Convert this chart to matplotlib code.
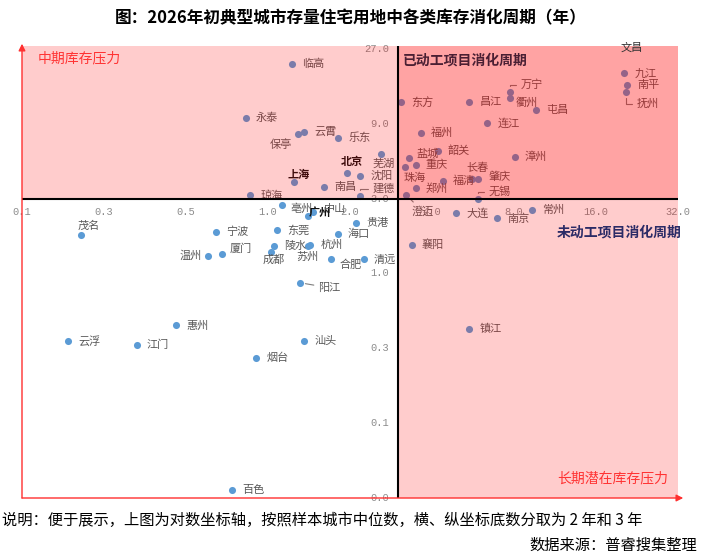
import numpy as np
import matplotlib.pyplot as plt

plt.rcParams['font.family'] = ['Noto Sans CJK SC', 'DejaVu Sans']

# 数据：横轴 = 未动工项目消化周期（年），纵轴 = 已动工项目消化周期（年）
cities = ['临高', '永泰', '保亭', '云霄', '乐东', '芜湖', '北京', '沈阳', '上海', '南昌',
          '建德', '琼海', '东方', '昌江', '万宁', '衢州', '屯昌', '连江', '福州', '韶关',
          '盐城', '重庆', '珠海', '漳州', '长春', '福清', '肇庆', '郑州', '无锡', '澄迈',
          '文昌', '九江', '南平', '抚州',
          '亳州', '广州', '中山', '贵港', '茂名', '宁波', '东莞', '海口', '陵水', '杭州',
          '苏州', '厦门', '温州', '成都', '合肥', '清远', '阳江', '惠州', '云浮', '江门',
          '汕头', '烟台', '百色', '大连', '南京', '常州', '襄阳', '镇江']
x_vals = [1.23, 0.83, 1.29, 1.36, 1.81, 2.59, 1.95, 2.18, 1.25, 1.61,
          2.18, 0.86, 3.07, 5.49, 7.71, 7.71, 9.63, 6.38, 3.63, 4.20,
          3.28, 3.49, 3.18, 8.04, 5.62, 4.38, 5.89, 3.48, 5.91, 3.22,
          21.7, 20.3, 20.8, 20.7,
          1.13, 1.40, 1.46, 2.11, 0.206, 0.646, 1.08, 1.80, 1.05, 1.43,
          1.40, 0.676, 0.602, 1.03, 1.71, 2.25, 1.31, 0.46, 0.185, 0.33,
          1.36, 0.906, 0.737, 4.92, 6.91, 9.29, 3.37, 5.49]
y_vals = [21.6, 9.8, 7.7, 8.0, 7.3, 5.8, 4.35, 4.2, 3.83, 3.57,
          3.12, 3.15, 12.4, 12.4, 14.4, 13.1, 11.0, 9.07, 7.9, 6.06,
          5.42, 4.91, 4.8, 5.55, 4.0, 3.9, 4.0, 3.5, 3.0, 3.16,
          30.0, 18.9, 15.8, 14.3,
          2.73, 2.34, 2.48, 2.10, 1.76, 1.84, 1.89, 1.79, 1.50, 1.53,
          1.49, 1.34, 1.30, 1.37, 1.23, 1.23, 0.873, 0.466, 0.369, 0.349,
          0.37, 0.288, 0.0417, 2.42, 2.25, 2.54, 1.52, 0.443]
bold_cities = ['北京', '上海', '广州']

x_ticks = [0.125, 0.25, 0.5, 1, 2, 4, 8, 16, 32]
x_ticklabels = ['0.1', '0.3', '0.5', '1.0', '2.0', '4.0', '8.0', '16.0', '32.0']
y_ticks = [1 / 27, 1 / 9, 1 / 3, 1, 3, 9, 27]
y_ticklabels = ['0.0', '0.1', '0.3', '1.0', '3.0', '9.0', '27.0']
x_mid, y_mid = 3, 3

# 标签位置（像素偏移：右为正，下为正）
label_pos = {
    '保亭': ('center', -17, 10), '芜湖': ('center', 3, 10), '北京': ('center', 5, -12),
    '上海': ('center', 4, -8), '建德': ('left', 12, -7), '万宁': ('left', 11, -7),
    '衢州': ('left', 6, 4), '盐城': ('left', 8, -5), '珠海': ('center', 10, 11),
    '长春': ('center', 5, -11), '肇庆': ('left', 11, -2), '无锡': ('left', 10, -7),
    '澄迈': ('center', 16, 16), '抚州': ('left', 10, 12), '文昌': ('center', 0, 6),
    '亳州': ('left', 8, 4), '广州': ('left', 1, -3), '中山': ('left', 11, -3),
    '茂名': ('center', 8, -9), '苏州': ('center', 0, 11), '厦门': ('left', 8, -5),
    '温州': ('right', -6, 0), '成都': ('center', 2, 8), '合肥': ('left', 8, 5),
    '阳江': ('left', 18, 5), '南京': ('left', 11, 1),
}
elbow_leader = ['建德', '万宁', '无锡', '抚州']
straight_leader = ['澄迈', '阳江']

fig = plt.figure(figsize=(7.01, 5.58), dpi=100)
ax = fig.add_axes([22 / 701, 60 / 558, 656 / 701, 452 / 558])
ax.set_xscale('log', base=2)
ax.set_yscale('log', base=3)
xmin, xmax = 0.125, 32
ymin, ymax = 1 / 27, 28.2
ax.set_xlim(xmin, xmax)
ax.set_ylim(ymin, ymax)
ax.axis('off')

ax.scatter(x_vals, y_vals, s=26, color='#5b9bd5', zorder=2, linewidths=0)

for name, xv, yv in zip(cities, x_vals, y_vals):
    ha, dx, dy = label_pos.get(name, ('left', 10, 0))
    bold = name in bold_cities
    props = None
    if name in elbow_leader:
        props = dict(arrowstyle='-', color='#7f7f7f', lw=0.8, shrinkA=1, shrinkB=4,
                     connectionstyle='angle,angleA=0,angleB=90,rad=0')
    elif name in straight_leader:
        props = dict(arrowstyle='-', color='#7f7f7f', lw=0.8, shrinkA=1, shrinkB=4)
    z = 6 if name == '文昌' else 2
    ax.annotate(name, xy=(xv, yv), xytext=(dx, -dy), textcoords='offset pixels',
                ha=ha, va='center', fontsize=8,
                color='#111111' if bold else ('#333333' if name == '文昌' else '#595959'),
                fontweight='bold' if bold else 'normal',
                arrowprops=props, annotation_clip=False, zorder=z)

# 象限底色
ax.axhspan(y_mid, ymax, color='red', alpha=0.2, lw=0, zorder=3)
ax.axvspan(x_mid, xmax, color='red', alpha=0.2, lw=0, zorder=3)

# 中位数坐标轴
ax.axhline(y_mid, color='black', lw=1.5, zorder=4)
ax.axvline(x_mid, color='black', lw=1.5, zorder=4)

for t, lab in zip(x_ticks, x_ticklabels):
    ax.annotate(lab, xy=(t, y_mid), xytext=(0, -13), textcoords='offset pixels',
                ha='center', va='center', fontsize=7.5, family='Liberation Mono',
                color='#8c8c8c', zorder=2, annotation_clip=False)
for t, lab in zip(y_ticks, y_ticklabels):
    ax.annotate(lab, xy=(x_mid, t), xytext=(-9, 0), textcoords='offset pixels',
                ha='right', va='center', fontsize=7.5, family='Liberation Mono',
                color='#8c8c8c', zorder=2, annotation_clip=False)

# 红色箭头
ax.annotate('', xy=(0, 1.005), xytext=(0, 0), xycoords='axes fraction',
            arrowprops=dict(arrowstyle='-|>', color='#ff3030', lw=1, mutation_scale=10,
                            shrinkA=0, shrinkB=0), annotation_clip=False, zorder=5)
ax.annotate('', xy=(1.008, 0), xytext=(0, 0), xycoords='axes fraction',
            arrowprops=dict(arrowstyle='-|>', color='#ff3030', lw=1, mutation_scale=10,
                            shrinkA=0, shrinkB=0), annotation_clip=False, zorder=5)

# 象限说明
ax.text(16 / 656, 1 - 12 / 452, '中期库存压力', transform=ax.transAxes, color='#ff3333',
        fontsize=10, ha='left', va='center', zorder=5)
ax.text(381 / 656, 1 - 14 / 452, '已动工项目消化周期', transform=ax.transAxes, color='#4a1f33',
        fontsize=10, fontweight='bold', ha='left', va='center', zorder=5)
ax.text(1.006, 1 - 186 / 452, '未动工项目消化周期', transform=ax.transAxes, color='#2b2b66',
        fontsize=10, fontweight='bold', ha='right', va='center', zorder=5)
ax.text(1 - 10 / 656, 20 / 452, '长期潜在库存压力', transform=ax.transAxes, color='#ff3333',
        fontsize=10, ha='right', va='center', zorder=5)

fig.text(0.5, 1 - 18 / 558, '图：2026年初典型城市存量住宅用地中各类库存消化周期（年）',
         ha='center', va='center', fontsize=12, fontweight='bold')
fig.text(2 / 701, 1 - 520 / 558,
         '说明：便于展示，上图为对数坐标轴，按照样本城市中位数，横、纵坐标底数分取为 2 年和 3 年',
         ha='left', va='center', fontsize=11)
fig.text(697 / 701, 1 - 545 / 558, '数据来源：普睿搜集整理', ha='right', va='center', fontsize=11)

fig.savefig('out.png', dpi=100)
